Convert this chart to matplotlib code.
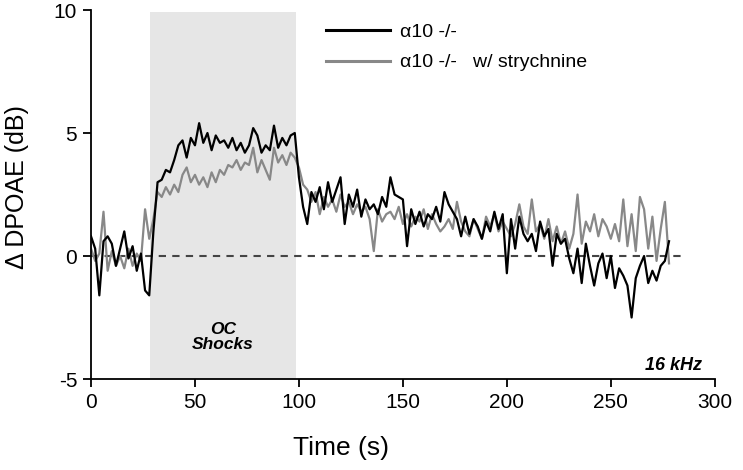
import numpy as np
import matplotlib
matplotlib.use("Agg")
import matplotlib.pyplot as plt

plt.rcParams['font.family'] = ['Liberation Sans', 'DejaVu Sans']
plt.rcParams['axes.unicode_minus'] = False

time_s = np.arange(0, 280, 2)

ko = [0.8, 0.3, -1.6, 0.6, 0.8, 0.5, -0.4, 0.3, 1.0, -0.1,
      0.4, -0.6, 0.1, -1.4, -1.6, 1.0, 3.0, 3.1, 3.5, 3.4,
      3.9, 4.5, 4.7, 4.0, 4.8, 4.5, 5.4, 4.6, 5.0, 4.3,
      4.9, 4.6, 4.7, 4.4, 4.8, 4.3, 4.6, 4.2, 4.5, 5.2,
      4.9, 4.2, 4.5, 4.3, 5.3, 4.4, 4.8, 4.5, 4.9, 5.0,
      3.2, 2.0, 1.3, 2.6, 2.2, 2.8, 1.9, 3.0, 2.2, 2.7,
      3.2, 1.3, 2.5, 2.0, 2.7, 1.6, 2.3, 1.9, 2.1, 1.7,
      2.4, 2.0, 3.2, 2.5, 2.4, 2.3, 0.4, 1.9, 1.3, 1.8,
      1.2, 1.7, 1.5, 2.0, 1.4, 2.6, 2.1, 1.8, 1.5, 0.8,
      1.6, 0.9, 1.5, 1.2, 0.7, 1.4, 1.0, 1.8, 1.1, 1.7,
      -0.7, 1.5, 0.3, 1.6, 0.9, 0.6, 0.9, 0.2, 1.4, 0.8,
      1.1, -0.4, 0.9, 0.5, 0.7, -0.1, -0.7, 0.3, -1.1, 0.5,
      -0.4, -1.2, -0.3, 0.1, -0.9, 0.0, -1.3, -0.5, -0.8, -1.2,
      -2.5, -0.9, -0.4, 0.0, -1.1, -0.6, -1.0, -0.4, -0.2, 0.6]

ko_strych = [0.3, -0.2, 0.1, 1.8, -0.6, 0.2, -0.4, 0.0, -0.5, 0.3,
             -0.4, 0.1, -0.2, 1.9, 0.7, 1.5, 2.6, 2.4, 2.8, 2.5,
             2.9, 2.6, 3.3, 3.6, 3.0, 3.3, 2.9, 3.2, 2.8, 3.4,
             3.0, 3.5, 3.3, 3.7, 3.6, 3.9, 3.5, 3.8, 3.7, 4.4,
             3.4, 3.9, 3.5, 3.1, 4.4, 3.8, 4.1, 3.7, 4.2, 4.0,
             3.6, 2.9, 2.7, 2.2, 2.6, 1.7, 2.4, 2.0, 2.3, 1.8,
             2.5, 2.0, 2.2, 1.7, 2.1, 1.8, 2.0, 1.5, 0.2, 1.9,
             1.4, 1.7, 1.8, 1.5, 2.0, 1.3, 1.7, 1.2, 1.6, 1.4,
             1.9, 1.1, 1.7, 1.3, 1.0, 1.2, 1.5, 1.1, 2.2, 1.4,
             1.0, 0.8, 1.5, 1.1, 0.7, 1.6, 1.2, 1.7, 1.0, 1.4,
             1.1, 0.8, 1.3, 2.1, 1.2, 0.9, 2.3, 1.0, 1.3, 0.7,
             1.5, 0.6, 1.2, 0.5, 1.0, 0.3, 0.9, 2.5, 0.5, 1.4,
             1.0, 1.7, 0.8, 1.5, 1.2, 0.7, 1.3, 0.6, 2.3, 0.4,
             1.7, 0.2, 2.4, 1.9, 0.3, 1.6, -0.2, 1.1, 2.2, -0.3]

shock_window = (28.5, 98.5)
legend_labels = ['\u03b110 -/-', '\u03b110 -/-   w/ strychnine']
x_ticks = [0, 50, 100, 150, 200, 250, 300]
y_ticks = [-5, 0, 5, 10]

fig = plt.figure(figsize=(7.43, 4.70), dpi=100)
ax = fig.add_axes([0.1225, 0.1936, 0.8395, 0.7851])

ax.axvspan(shock_window[0], shock_window[1], ymin=0, ymax=0.995,
           color='#e6e6e6', lw=0, zorder=0)
ax.plot([0, 284], [0, 0], ls=(0, (3.5, 3)), color='#444444', lw=1.5, zorder=1)

ax.plot(time_s, ko, color='black', lw=1.6, label=legend_labels[0], zorder=3)
ax.plot(time_s, ko_strych, color='#888888', lw=1.6, label=legend_labels[1], zorder=2)

ax.set_xlim(0, 300)
ax.set_ylim(-5, 10)
ax.set_xticks(x_ticks)
ax.set_yticks(y_ticks)
ax.spines['top'].set_visible(False)
ax.spines['right'].set_visible(False)
for s in ['left', 'bottom']:
    ax.spines[s].set_linewidth(1.3)
ax.tick_params(axis='both', direction='out', length=6, width=1.3,
               labelsize=15, pad=4)

ax.set_xlabel('Time (s)', fontsize=19)
ax.set_ylabel('\u0394 DPOAE (dB)', fontsize=18)
ax.xaxis.set_label_coords(0.40, -0.155)
ax.yaxis.set_label_coords(-0.10, 0.52)

leg = ax.legend(loc='upper left', bbox_to_anchor=(0.355, 1.0), frameon=False,
                fontsize=14, handlelength=3.3, handletextpad=0.5,
                labelspacing=0.65, borderpad=0.2)
for line in leg.get_lines():
    line.set_linewidth(2.2)

ax.text(63.5, -3.3, 'OC\nShocks', ha='center', va='center', fontsize=12.5,
        fontweight='bold', fontstyle='italic', linespacing=1.05)
ax.text(294, -4.45, '16 kHz', ha='right', va='center', fontsize=13,
        fontweight='bold', fontstyle='italic')

fig.savefig('out.png', dpi=100)
